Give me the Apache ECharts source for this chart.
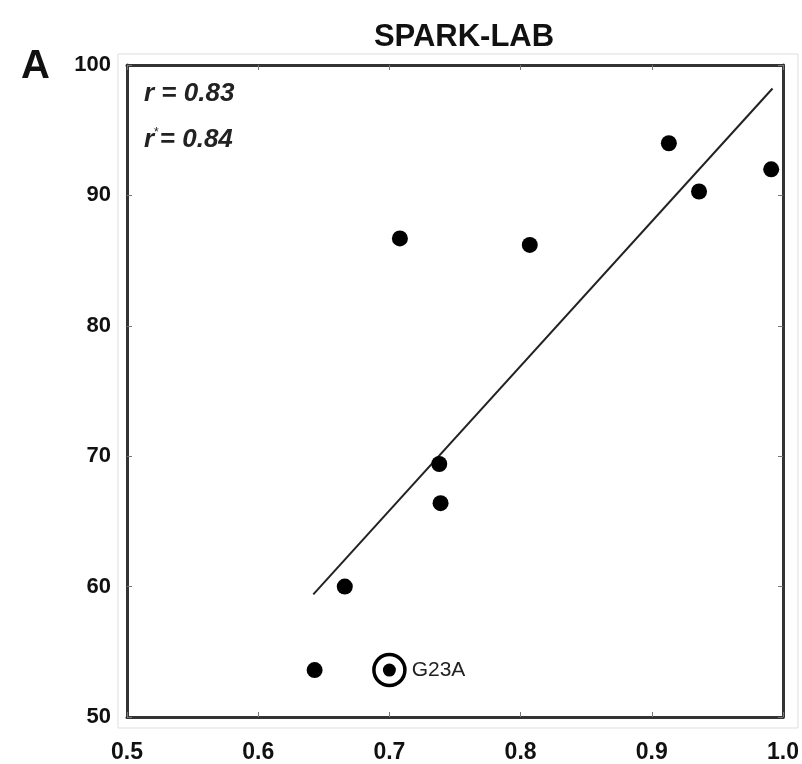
<!DOCTYPE html>
<html>
<head>
<meta charset="utf-8">
<script src="https://cdn.jsdelivr.net/npm/echarts@6/dist/echarts.min.js"></script>
<style>
html,body{margin:0;padding:0;background:#fff;}
#chart{width:802px;height:764px;}
</style>
</head>
<body>
<div id="chart"></div>
<script>
// data
var xTicks = [0.5, 0.6, 0.7, 0.8, 0.9, 1.0];
var yTicks = [50, 60, 70, 80, 90, 100];
var pointX = [0.643, 0.666, 0.708, 0.738, 0.739, 0.807, 0.913, 0.936, 0.991];
var pointY = [53.6, 60.0, 86.7, 69.4, 66.4, 86.2, 94.0, 90.3, 92.0];
var markedX = [0.700];
var markedY = [53.6];
var markedName = ['G23A'];
var fitX = [0.642, 0.992];
var fitY = [59.4, 98.2];

function pairs(xs, ys){
	var out = [];
	for (var i = 0; i < xs.length; i++) out.push([xs[i], ys[i]]);
	return out;
}

var font = 'Liberation Sans, Arial, Helvetica, sans-serif';
var axisCol = '#333';
var tick = {show: true, inside: true, length: 5, lineStyle: {color: '#777', width: 1}};

var myChart = echarts.init(document.getElementById('chart'));
var option = {
	backgroundColor: '#fff',
	animation: false,
	title: [{
		text: 'SPARK-LAB',
		left: 459, top: 17, textAlign: 'center',
		textStyle: {fontFamily: font, fontSize: 31, fontWeight: 'bold', color: '#111'}
	}, {
		text: 'A',
		left: 16, top: 42,
		textStyle: {fontFamily: font, fontSize: 40, fontWeight: 'bold', color: '#111'}
	}],
	graphic: [{
		type: 'rect',
		shape: {x: 118, y: 54, width: 680, height: 674},
		style: {fill: 'none', stroke: '#ddd', lineWidth: 1}
	}, {
		type: 'text',
		left: 144, top: 81,
		style: {
			text: '{i|r = 0.83}',
			rich: {
				i: {fontFamily: font, fontSize: 26, fontStyle: 'italic', fontWeight: 'bold', fill: '#222'}
			}
		}
	}, {
		type: 'text',
		left: 144, top: 127,
		style: {
			text: '{i|r}{s|*}{i|= 0.84}',
			rich: {
				i: {fontFamily: font, fontSize: 26, fontStyle: 'italic', fontWeight: 'bold', fill: '#222'},
				s: {fontFamily: font, fontSize: 12, fill: '#222', verticalAlign: 'top', padding: [0, 1, 12, 0]}
			}
		}
	}],
	grid: {left: 127, right: 19, top: 65, bottom: 46, show: false},
	xAxis: [{
		type: 'value', min: xTicks[0], max: xTicks[xTicks.length - 1], interval: 0.1,
		position: 'bottom',
		axisLine: {show: true, lineStyle: {color: axisCol, width: 3}},
		axisTick: tick,
		axisLabel: {fontFamily: font, fontSize: 23, fontWeight: 'bold', color: '#111', margin: 24,
			formatter: function(v){ return v.toFixed(1); }},
		splitLine: {show: false}
	}, {
		type: 'value', min: xTicks[0], max: xTicks[xTicks.length - 1], interval: 0.1,
		position: 'top',
		axisLine: {show: true, lineStyle: {color: axisCol, width: 3}},
		axisTick: tick,
		axisLabel: {show: false},
		splitLine: {show: false}
	}],
	yAxis: [{
		type: 'value', min: yTicks[0], max: yTicks[yTicks.length - 1], interval: 10,
		position: 'left',
		axisLine: {show: true, lineStyle: {color: axisCol, width: 3}},
		axisTick: tick,
		axisLabel: {fontFamily: font, fontSize: 22, fontWeight: 'bold', color: '#111', margin: 16},
		splitLine: {show: false}
	}, {
		type: 'value', min: yTicks[0], max: yTicks[yTicks.length - 1], interval: 10,
		position: 'right',
		axisLine: {show: true, lineStyle: {color: axisCol, width: 3}},
		axisTick: tick,
		axisLabel: {show: false},
		splitLine: {show: false}
	}],
	series: [{
		name: 'fit',
		type: 'line',
		data: pairs(fitX, fitY),
		showSymbol: false,
		lineStyle: {color: '#222', width: 2},
		z: 2
	}, {
		name: 'points',
		type: 'scatter',
		data: pairs(pointX, pointY),
		symbolSize: 16,
		itemStyle: {color: '#000', opacity: 1},
		z: 3
	}, {
		name: 'ring',
		type: 'scatter',
		data: pairs(markedX, markedY),
		symbolSize: 31,
		itemStyle: {color: '#fff', borderColor: '#000', borderWidth: 3.5, opacity: 1},
		label: {
			show: true, position: 'right', distance: 5,
			formatter: function(p){ return markedName[p.dataIndex]; },
			fontFamily: font, fontSize: 21, color: '#222'
		},
		z: 3
	}, {
		name: 'marked',
		type: 'scatter',
		data: pairs(markedX, markedY),
		symbolSize: 13,
		itemStyle: {color: '#000', opacity: 1},
		z: 4
	}]
};
myChart.setOption(option);
</script>
</body>
</html>
